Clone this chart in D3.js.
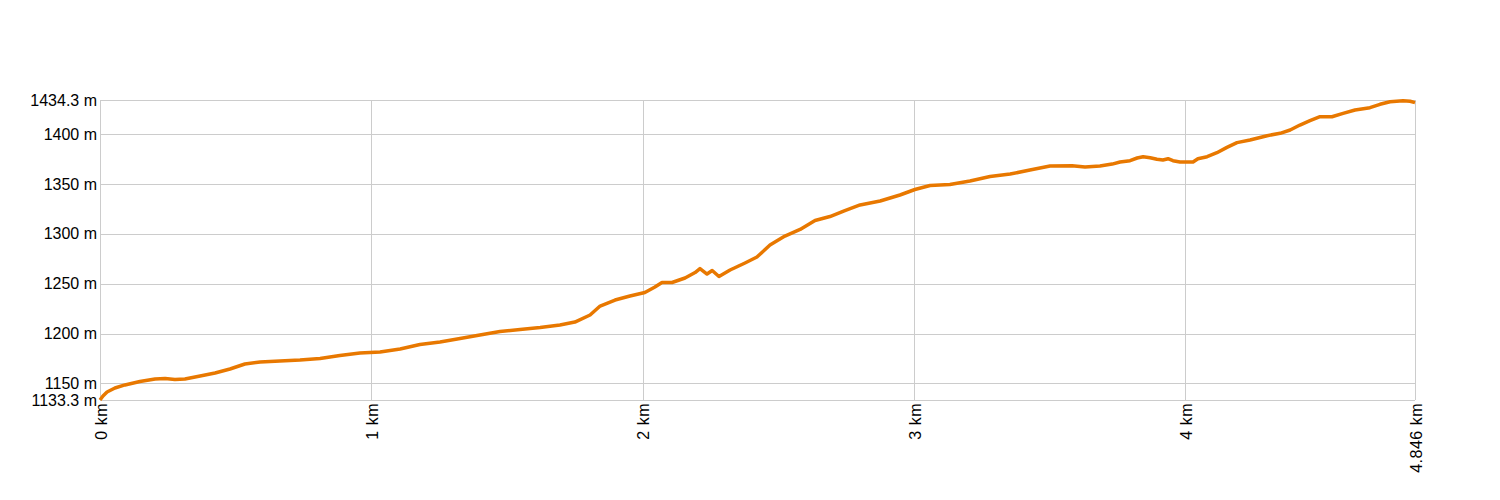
<!DOCTYPE html>
<html>
<head>
<meta charset="utf-8">
<script src="https://cdn.jsdelivr.net/npm/d3@7"></script>
<style>
    body { margin: 0; background: #fff; }
    text { font-family: "Liberation Sans", Arial, sans-serif; font-size: 16px; fill: #000; }
    .xlab { letter-spacing: 0.5px; }
</style>
</head>
<body>
<svg id="chart" width="1500" height="500"></svg>
<script>
// distance along the track in km, elevation in m
const distKm = [
    0, 0.011, 0.026, 0.055, 0.092, 0.147, 0.203, 0.24, 0.276, 0.313, 0.369, 0.424,
    0.479, 0.534, 0.59, 0.663, 0.737, 0.811, 0.884, 0.958, 1.032, 1.106, 1.179,
    1.253, 1.327, 1.4, 1.474, 1.548, 1.622, 1.695, 1.75, 1.806, 1.843, 1.898,
    1.953, 2.008, 2.045, 2.071, 2.108, 2.156, 2.193, 2.211, 2.237, 2.256, 2.281,
    2.322, 2.377, 2.421, 2.469, 2.524, 2.58, 2.635, 2.69, 2.745, 2.801, 2.875,
    2.948, 3.003, 3.059, 3.132, 3.206, 3.28, 3.354, 3.427, 3.501, 3.582, 3.63,
    3.685, 3.73, 3.759, 3.796, 3.822, 3.844, 3.87, 3.895, 3.917, 3.936, 3.954,
    3.98, 4.028, 4.046, 4.08, 4.116, 4.153, 4.19, 4.238, 4.301, 4.349, 4.386,
    4.422, 4.459, 4.496, 4.54, 4.581, 4.625, 4.68, 4.717, 4.754, 4.802, 4.828, 4.846
];
const elevM = [
    1133.3, 1137.3, 1141.3, 1145.3, 1148.4, 1151.9, 1154.4, 1154.9, 1153.9, 1154.4,
    1157.4, 1160.4, 1164.4, 1169.4, 1171.4, 1172.4, 1173.4, 1174.9, 1177.9, 1180.5,
    1181.5, 1184.5, 1189, 1191.5, 1195, 1198.5, 1202, 1204, 1206, 1208.5, 1211.5,
    1218.6, 1227.6, 1233.6, 1237.6, 1241.2, 1246.7, 1251.2, 1251.2, 1255.7, 1261.2,
    1265.2, 1259.7, 1263.2, 1257.2, 1263.7, 1270.8, 1276.8, 1288.8, 1297.8, 1304.4,
    1313.4, 1317.4, 1323.4, 1329, 1333, 1339, 1344.5, 1348.5, 1349.5, 1353, 1357.5,
    1360, 1364, 1368, 1368.4, 1367, 1368, 1370, 1372.1, 1373.4, 1376.1, 1377.4,
    1376.4, 1374.8, 1374.1, 1375.4, 1373.4, 1372.1, 1372.1, 1375.4, 1377.4, 1381.4,
    1386.8, 1391.5, 1394.2, 1398.5, 1400.9, 1404.2, 1409.2, 1413.5, 1417.5, 1417.5,
    1420.9, 1424.3, 1426.6, 1430, 1432.6, 1433.6, 1433, 1431.6
];
const yTicks = [1133.3, 1150, 1200, 1250, 1300, 1350, 1400, 1434.3];
const xTicks = [0, 1, 2, 3, 4, 4.846];

const margin = { top: 100, right: 85, bottom: 100, left: 100 };
const svg = d3.select("#chart");
const width = +svg.attr("width") - margin.left - margin.right;
const height = +svg.attr("height") - margin.top - margin.bottom;

const x = d3.scaleLinear().domain([0, 4.846]).range([0, width]);
const y = d3.scaleLinear().domain([1133.3, 1434.3]).range([height, 0]);

const g = svg.append("g").attr("transform", `translate(${margin.left},${margin.top})`);

// grid
g.append("g")
    .selectAll("line")
    .data(yTicks)
    .join("line")
    .attr("x1", 0)
    .attr("x2", width)
    .attr("y1", (d) => Math.round(y(d)) + 0.5)
    .attr("y2", (d) => Math.round(y(d)) + 0.5)
    .attr("stroke", "#cccccc");

g.append("g")
    .selectAll("line")
    .data(xTicks)
    .join("line")
    .attr("x1", (d) => Math.round(x(d)) + 0.5)
    .attr("x2", (d) => Math.round(x(d)) + 0.5)
    .attr("y1", 0)
    .attr("y2", height)
    .attr("stroke", "#cccccc");

// y labels
g.append("g")
    .selectAll("text")
    .data(yTicks)
    .join("text")
    .attr("x", -3)
    .attr("y", (d) => y(d))
    .attr("dy", "0.35em")
    .attr("text-anchor", "end")
    .text((d) => `${d} m`);

// x labels, rotated
g.append("g")
    .selectAll("text")
    .data(xTicks)
    .join("text")
    .attr("class", "xlab")
    .attr("transform", (d) => `translate(${x(d) + 1},${height + 3}) rotate(-90)`)
    .attr("dy", "0.35em")
    .attr("text-anchor", "end")
    .text((d) => `${d} km`);

// elevation line
const points = distKm.map((d, i) => [d, elevM[i]]);
g.append("path")
    .datum(points)
    .attr("fill", "none")
    .attr("stroke", "#e87800")
    .attr("stroke-width", 3.5)
    .attr("stroke-linejoin", "round")
    .attr("d", d3.line().x((d) => x(d[0])).y((d) => y(d[1])));
</script>
</body>
</html>
